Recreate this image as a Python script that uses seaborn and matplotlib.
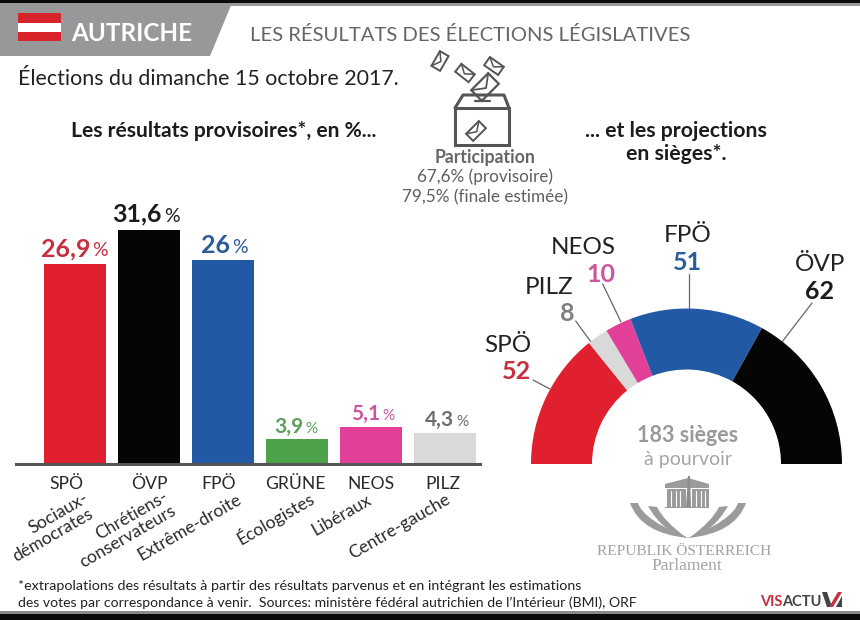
import matplotlib
matplotlib.use("Agg")
import matplotlib.pyplot as plt
import matplotlib.transforms as mtrans
import numpy as np
import seaborn as sns
from matplotlib.patches import Polygon, Rectangle, PathPatch
from matplotlib.path import Path

# --- data ---
parties = ["SPÖ", "ÖVP", "FPÖ", "GRÜNE", "NEOS", "PILZ"]
# bar heights as drawn in the picture (they do not follow the printed labels exactly)
bar_heights = [26.9, 31.6, 27.5, 3.3, 4.9, 4.1]
bar_labels = ["26,9", "31,6", "26", "3,9", "5,1", "4,3"]
bar_colors = ["#e0202e", "#050505", "#2259a5", "#4ea24a", "#e23f98", "#d9d9d9"]
label_colors = ["#c5303f", "#1c1c1c", "#2c5c9a", "#5c9f58", "#c9569f", "#6e6e6e"]
label_shift = [15, 13, 7, 6, 9, 9]
label_rise = [8, 8, 7, 6, 7, 7]
label_size = [18, 18, 18, 15, 15, 15]
tick_shift = [-9, 0, -4, -2, 0, -2]

seat_parties = ["SPÖ", "PILZ", "NEOS", "FPÖ", "ÖVP"]
seats = [52, 8, 10, 51, 62]
seat_colors = ["#e0202e", "#d9d9d9", "#e23f98", "#2259a5", "#050505"]

sns.set_theme(style="white")
plt.rcParams["font.family"] = ["Lato", "DejaVu Sans"]

fig = plt.figure(figsize=(8.6, 6.2), dpi=100)

# overlay in pixel coordinates for header, icons and free text
bg = fig.add_axes([0, 0, 1, 1])
bg.set_xlim(0, 860)
bg.set_ylim(620, 0)
bg.axis("off")

# --- header / footer bands ---
bg.add_patch(Rectangle((0, 0), 860, 3, color="#0a0a0a", lw=0))
bg.add_patch(Rectangle((0, 3), 860, 3, color="#9a9b9d", lw=0))
bg.add_patch(Polygon([(0, 3), (232, 3), (210, 56), (0, 56)], color="#97989a", lw=0))
bg.add_patch(Rectangle((0, 611), 860, 3, color="#8a8a8a", lw=0))
bg.add_patch(Rectangle((0, 614), 860, 6, color="#0a0a0a", lw=0))

bg.add_patch(Rectangle((18, 13), 43, 28, color="#d8232a", lw=0))
bg.add_patch(Rectangle((18, 22.5), 43, 9.5, color="white", lw=0))

bg.text(71, 41, "AUTRICHE", color="white", fontsize=17.5, fontweight="bold", va="baseline")
bg.text(250, 41, "LES RÉSULTATS DES ÉLECTIONS LÉGISLATIVES", color="#666666", fontsize=14.55, va="baseline")
bg.text(18, 85, "Élections du dimanche 15 octobre 2017.", color="#222222", fontsize=15.4, va="baseline")
bg.text(71, 137, "Les résultats provisoires*, en %...", color="#1c1c1c", fontsize=15.15, fontweight="bold", va="baseline")
bg.text(676, 137, "... et les projections", color="#1c1c1c", fontsize=15.3, fontweight="bold", va="baseline", ha="center")
bg.text(676, 160, "en sièges*.", color="#1c1c1c", fontsize=15.3, fontweight="bold", va="baseline", ha="center")

bg.text(485, 163, "Participation", color="#666666", fontsize=12.7, fontweight="bold", ha="center", va="baseline")
bg.text(485, 182, "67,6% (provisoire)", color="#5f5f5f", fontsize=12.3, ha="center", va="baseline")
bg.text(485, 202, "79,5% (finale estimée)", color="#5f5f5f", fontsize=12.3, ha="center", va="baseline")


def envelope(cx, cy, w, h, angle, lw=1.4):
    a = np.deg2rad(angle)
    ux, uy = np.cos(a), np.sin(a)
    vx, vy = -uy, ux
    pts = [(-w / 2, -h / 2), (w / 2, -h / 2), (w / 2, h / 2), (-w / 2, h / 2)]
    xy = [(cx + p * ux + q * vx, cy + p * uy + q * vy) for p, q in pts]
    bg.add_patch(Polygon(xy, fill=False, ec="#555555", lw=lw))
    mid = (cx + h * 0.1 * vx, cy + h * 0.1 * vy)
    bg.plot([xy[0][0], mid[0], xy[1][0]], [xy[0][1], mid[1], xy[1][1]], color="#555555", lw=lw * 0.8)


# ballot box
bg.add_patch(Rectangle((455, 108), 54, 37, fill=False, ec="#555555", lw=2.2))
bg.plot([455, 463, 504, 509], [108, 95, 95, 108], color="#555555", lw=2.2)
bg.plot([475, 490], [101, 101], color="#555555", lw=1.6)
envelope(485, 87, 24, 15, -45, 1.6)
envelope(440, 61, 17, 10, -60)
envelope(465, 73, 17, 10, 38)
envelope(494, 66, 17, 10, 35)
envelope(476, 131, 18, 10, -45)

# --- bars ---
ax = fig.add_axes([16 / 860, (620 - 463.5) / 620, 464 / 860, 263.5 / 620])
ax.patch.set_alpha(0)
sns.barplot(x=parties, y=bar_heights, hue=parties, palette=bar_colors, legend=False,
            width=62 / 74, saturation=1, linewidth=0, ax=ax)
ax.set_xlim(-59 / 74, 405 / 74)
ax.set_ylim(0, 263.5 / 7.405)
ax.set_yticks([])
ax.tick_params(axis="x", length=0, labelsize=12.6, labelcolor="#2a2a2a", pad=9)
sns.despine(ax=ax, left=True)
ax.spines["bottom"].set_color("#555555")
ax.spines["bottom"].set_linewidth(2.2)

for lab, dx in zip(ax.get_xticklabels(), tick_shift):
    lab.set_transform(lab.get_transform() + mtrans.ScaledTranslation(dx / 100, 0, fig.dpi_scale_trans))

for i, (h, lab) in enumerate(zip(bar_heights, bar_labels)):
    ax.annotate(lab, (i, h), xytext=(label_shift[i], label_rise[i]), textcoords="offset pixels",
                ha="right", va="baseline", color=label_colors[i], fontsize=label_size[i], fontweight="bold")
    ax.annotate("%", (i, h), xytext=(label_shift[i] + 2, label_rise[i]), textcoords="offset pixels",
                ha="left", va="baseline", color=label_colors[i], fontsize=label_size[i] - 4)

# slanted party descriptions
descriptions = [("Sociaux-", 58, 513), ("démocrates", 53, 535), ("Chrétiens-", 132, 515),
                ("conservateurs", 128, 537), ("Extrême-droite", 190, 527), ("Écologistes", 275, 518),
                ("Libéraux", 342, 515), ("Centre-gauche", 400, 527)]
for txt, x, y in descriptions:
    bg.text(x, y, txt, rotation=30, rotation_mode="anchor", ha="center", va="center",
            fontsize=12.6, color="#2a2a2a")

# --- hemicycle ---
hemi = fig.add_axes([531 / 860, (620 - 464) / 620, 311 / 860, 155.5 / 620])
hemi.pie(seats + [sum(seats)], colors=seat_colors + ["none"], startangle=180, counterclock=False,
         radius=1, wedgeprops=dict(width=61 / 155.5, linewidth=0))
hemi.set_xlim(-1, 1)
hemi.set_ylim(0, 1)
hemi.patch.set_alpha(0)

leaders = [((533, 380), (550, 389)), ((575.7, 321), (591, 342)), ((602.7, 284), (621, 322)),
           ((689, 274), (689, 309)), ((812, 303), (782, 342))]
for (x0, y0), (x1, y1) in leaders:
    bg.plot([x0, x1], [y0, y1], color="#666666", lw=0.9)

seat_name_pos = [(508, 352), (549, 294), (583, 254), (688, 242), (820, 271)]
seat_num_pos = [(516, 379), (567, 321), (601, 282), (687, 270), (820, 299)]
seat_num_colors = ["#c5303f", "#808080", "#c9569f", "#2c5c9a", "#1c1c1c"]
for name, n, (nx, ny), (vx, vy), col in zip(seat_parties, seats, seat_name_pos, seat_num_pos, seat_num_colors):
    bg.text(nx, ny, name, ha="center", va="baseline", fontsize=17.5, color="#222222")
    bg.text(vx, vy, str(n), ha="center", va="baseline", fontsize=18, fontweight="bold", color=col)

bg.text(688, 442, "183 sièges", ha="center", va="baseline", fontsize=15.5, fontweight="bold", color="#9a9a9a")
bg.text(688, 465, "à pourvoir", ha="center", va="baseline", fontsize=14, color="#a5a5a5")

# --- parliament logo ---
logo_grey = "#9b9b9b"
bg.add_patch(Polygon([(665, 484), (688, 478), (709, 484), (709, 488), (665, 488)], color=logo_grey, lw=0))
bg.add_patch(Rectangle((667, 489), 19, 18, color=logo_grey, lw=0))
bg.add_patch(Rectangle((692, 489), 17, 18, color=logo_grey, lw=0))
bg.add_patch(Rectangle((665, 506.5), 44, 1.5, color=logo_grey, lw=0))
for x in [671, 675.5, 680, 696, 700.5, 704.5]:
    bg.plot([x, x], [491, 506], color="white", lw=0.8)
bg.add_patch(Polygon([(688, 476), (690, 476), (691, 507), (686, 507)], color="#8c8c8c", lw=0))


def leaf(pts):
    codes = [Path.MOVETO, Path.CURVE3, Path.CURVE3, Path.CURVE3, Path.CURVE3, Path.CLOSEPOLY]
    bg.add_patch(PathPatch(Path(pts + [pts[0]], codes), fc=logo_grey, ec="none"))


for sign in [1, -1]:
    mx = lambda x: 688 + sign * (x - 688)
    leaf([(mx(630), 503), (mx(641), 533.5), (mx(688), 538), (mx(643), 519.5), (mx(638), 503)])
    leaf([(mx(648), 506), (mx(662.5), 532), (mx(687), 538), (mx(664), 521.5), (mx(657), 507)])

bg.text(684, 555, "REPUBLIK ÖSTERREICH", ha="center", va="baseline", fontsize=11.1,
        family="Liberation Serif", color="#a3a3a3")
bg.text(687, 570, "Parlament", ha="center", va="baseline", fontsize=12.5,
        family="Liberation Serif", color="#a3a3a3")

# --- footnote ---
bg.text(18, 590, "*extrapolations des résultats à partir des résultats parvenus et en intégrant les estimations",
        fontsize=10.25, color="#222222", va="baseline")
bg.text(18, 607, "des votes par correspondance à venir.  Sources: ministère fédéral autrichien de l’Intérieur (BMI), ORF",
        fontsize=10.1, color="#222222", va="baseline")

# --- logo ---
bg.text(760, 606, "VIS", fontsize=10.5, fontweight="bold", color="#c5303f", va="baseline")
bg.text(782, 606, "ACTU", fontsize=10.5, fontweight="bold", color="#444444", va="baseline")
bg.add_patch(Polygon([(822, 592), (827, 592), (832, 607), (827, 607)], color="#444444", lw=0))
bg.add_patch(Polygon([(829, 607), (838, 592), (842, 592), (833, 607)], color="#c5303f", lw=0))
bg.add_patch(Polygon([(842, 596), (842, 607), (836, 607)], color="#444444", lw=0))

fig.savefig("out.png", dpi=100)
